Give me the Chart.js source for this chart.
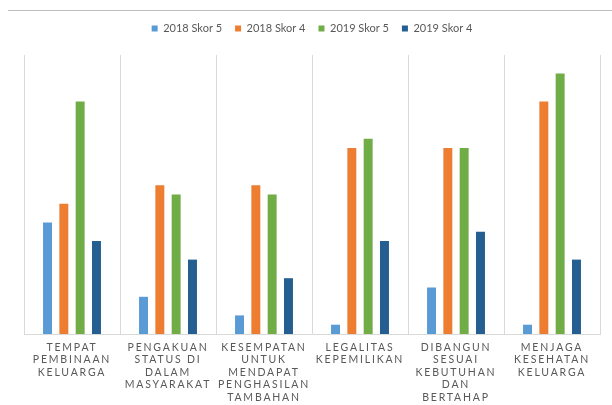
<!DOCTYPE html>
<html>
<head>
<meta charset="utf-8">
<title>Skor 2018 - 2019</title>
<script src="https://cdn.jsdelivr.net/npm/chart.js@4/dist/chart.umd.min.js"></script>
<style>
  body { margin: 0; background: #fff; }
  #wrap { position: relative; width: 612px; height: 405px; }
  #topLine { position: absolute; z-index: 2; left: 8px; top: 10px; width: 604px; height: 0; border-top: 1px solid #bfbfbf; }
</style>
</head>
<body>
<div id="wrap">
  <canvas id="skorChart"></canvas>
  <div id="topLine"></div>
</div>
<script>
// Data
const categories = [
  ['TEMPAT', 'PEMBINAAN', 'KELUARGA'],
  ['PENGAKUAN', 'STATUS DI', 'DALAM', 'MASYARAKAT'],
  ['KESEMPATAN', 'UNTUK', 'MENDAPAT', 'PENGHASILAN', 'TAMBAHAN'],
  ['LEGALITAS', 'KEPEMILIKAN'],
  ['DIBANGUN', 'SESUAI', 'KEBUTUHAN', 'DAN', 'BERTAHAP'],
  ['MENJAGA', 'KESEHATAN', 'KELUARGA']
];
const skor5_2018 = [12, 4, 2, 1, 5, 1];
const skor4_2018 = [14, 16, 16, 20, 20, 25];
const skor5_2019 = [25, 15, 15, 21, 20, 28];
const skor4_2019 = [10, 8, 6, 10, 11, 8];

const textColor = '#595959';
const gridColor = '#d9d9d9';

// Category axis that draws its labels with wider letter spacing
class SpacedCategoryScale extends Chart.CategoryScale {
  drawLabels(chartArea) {
    const ctx = this.ctx;
    ctx.save();
    ctx.letterSpacing = '1.8px';
    super.drawLabels(chartArea);
    ctx.restore();
  }
}
SpacedCategoryScale.id = 'spacedCategory';
SpacedCategoryScale.defaults = Chart.CategoryScale.defaults;
Chart.register(SpacedCategoryScale);

// Extra room under the legend
const legendGap = {
  id: 'legendGap',
  beforeInit(chart) {
    const originalFit = chart.legend.fit;
    chart.legend.fit = function fit() {
      originalFit.bind(chart.legend)();
      this.height += 11;
    };
  }
};

Chart.defaults.font.family = 'Lato, "Open Sans", sans-serif';
Chart.defaults.color = textColor;

const ctx = document.getElementById('skorChart').getContext('2d');
new Chart(ctx, {
  type: 'bar',
  data: {
    labels: categories,
    datasets: [
      { label: '2018 Skor 5', data: skor5_2018, backgroundColor: '#5b9bd5' },
      { label: '2018 Skor 4', data: skor4_2018, backgroundColor: '#ed7d31' },
      { label: '2019 Skor 5', data: skor5_2019, backgroundColor: '#70ad47' },
      { label: '2019 Skor 4', data: skor4_2019, backgroundColor: '#255e91' }
    ]
  },
  plugins: [legendGap],
  options: {
    responsive: true,
    maintainAspectRatio: false,
    animation: false,
    categoryPercentage: 0.68,
    barPercentage: 0.55,
    layout: {
      padding: { left: 24, right: 12, top: 10, bottom: -6 }
    },
    plugins: {
      legend: {
        position: 'top',
        labels: {
          boxWidth: 6,
          boxHeight: 6,
          padding: 13,
          color: textColor,
          font: { size: 11 }
        }
      },
      tooltip: { enabled: false }
    },
    scales: {
      x: {
        type: 'spacedCategory',
        grid: {
          color: gridColor,
          drawTicks: false
        },
        border: { color: gridColor },
        ticks: {
          color: textColor,
          font: { size: 10.5 },
          padding: 7,
          maxRotation: 0,
          autoSkip: false
        }
      },
      y: {
        display: false,
        min: 0,
        max: 30
      }
    }
  }
});
</script>
</body>
</html>
